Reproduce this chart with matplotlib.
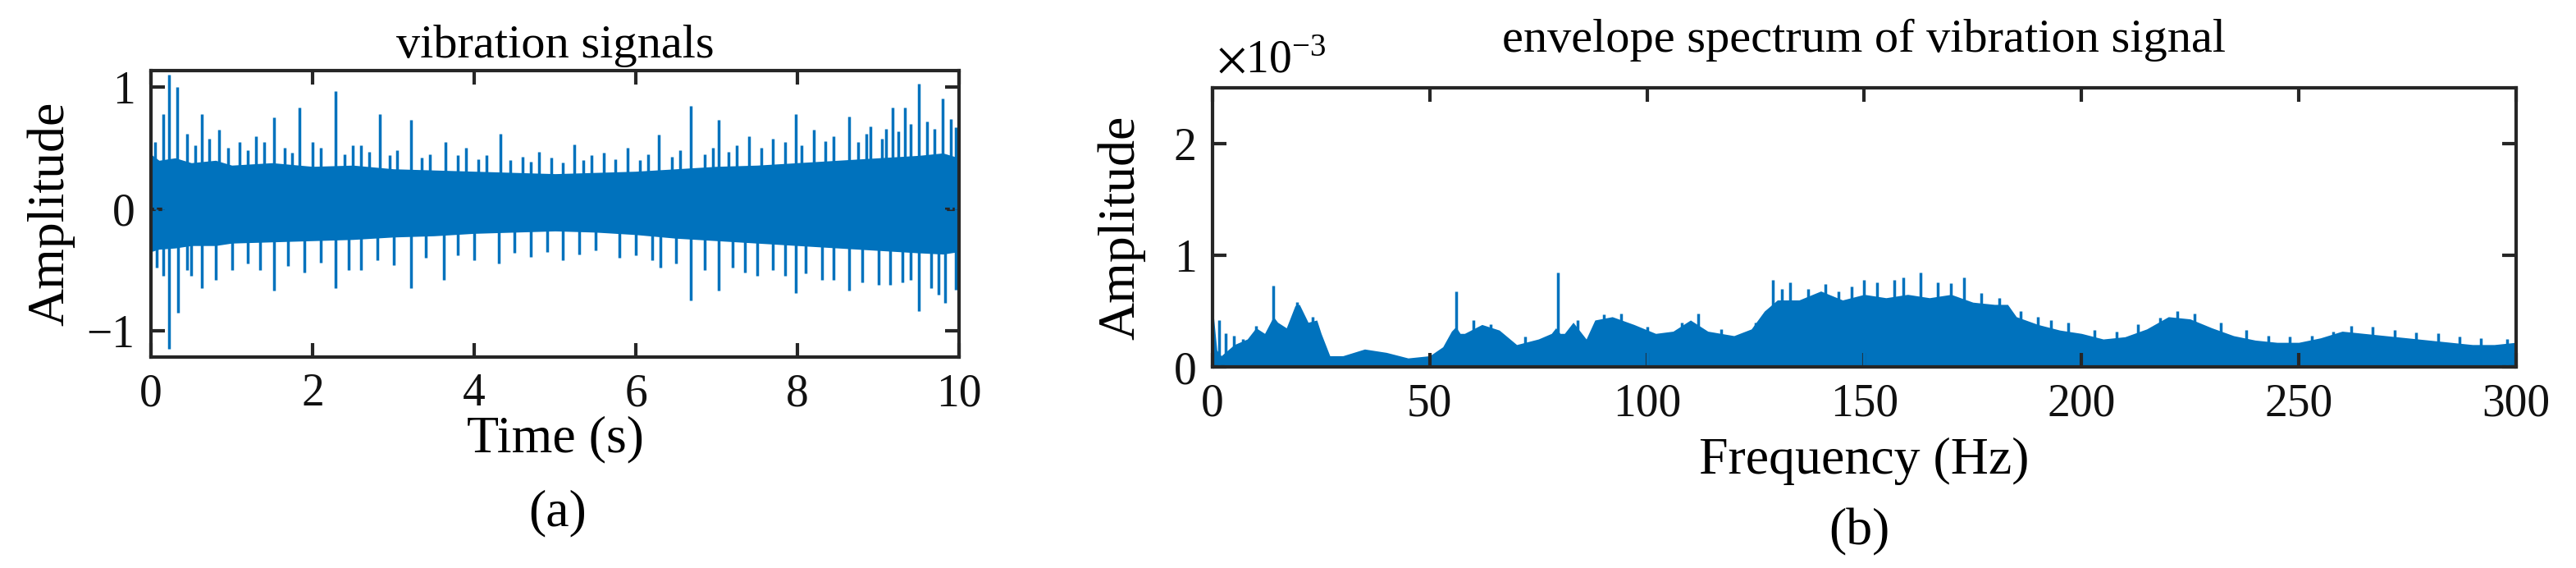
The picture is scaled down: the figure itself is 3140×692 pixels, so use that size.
import matplotlib
matplotlib.use("Agg")
import matplotlib.pyplot as plt
import numpy as np

plt.rcParams['font.family'] = ['Liberation Serif', 'DejaVu Serif']
plt.rcParams['mathtext.fontset'] = 'stix'

# ---- (a) vibration signal: band envelope + spikes ----
band_t = [0, 0.1, 0.3, 0.5, 0.8, 1.0, 1.5, 2.0, 2.5, 3.0, 3.5, 4.0, 4.5, 5.0, 5.5, 6.0,
          6.5, 7.0, 7.5, 8.0, 8.5, 9.0, 9.5, 9.8, 10.0]
band_hi = [0.45, 0.40, 0.42, 0.38, 0.40, 0.36, 0.38, 0.35, 0.36, 0.33, 0.32, 0.31, 0.30, 0.29, 0.30, 0.31,
           0.33, 0.35, 0.36, 0.38, 0.40, 0.42, 0.44, 0.46, 0.42]
band_lo = [-0.35, -0.33, -0.32, -0.30, -0.30, -0.28, -0.27, -0.26, -0.25, -0.23, -0.22, -0.20, -0.19, -0.18, -0.19, -0.21,
           -0.24, -0.26, -0.28, -0.30, -0.32, -0.34, -0.36, -0.37, -0.35]
up_t = [0.15, 0.22, 0.32, 0.63, 0.84, 1.52, 1.84, 2.28, 2.83, 3.22, 3.64, 4.32, 5.24, 6.28, 6.68,
        7.03, 7.98, 8.64, 9.18, 9.33, 9.5, 9.8, 9.96,
        0.45, 1.1, 1.3, 2.0, 2.6, 3.9, 4.8, 5.6, 5.9, 7.4, 7.7, 8.2, 8.9, 9.6, 9.1,
        0.05, 0.55, 0.72, 0.95, 1.2, 1.4, 1.65, 1.75, 2.1, 2.4, 2.5, 2.7, 2.95, 3.05, 3.35, 3.45, 3.8,
        4.05, 4.15, 4.45, 4.6, 4.7, 4.95, 5.1, 5.35, 5.45, 5.75, 6.05, 6.15, 6.45, 6.55, 6.85, 6.95,
        7.15, 7.25, 7.55, 7.85, 8.05, 8.35, 8.45, 8.75, 8.85, 9.05, 9.25, 9.4, 9.7, 9.9]
up_v = [0.78, 1.10, 1.00, 0.78, 0.65, 0.75, 0.83, 0.97, 0.78, 0.73, 0.55, 0.62, 0.53, 0.61, 0.85,
        0.73, 0.78, 0.76, 0.83, 0.83, 1.03, 0.91, 0.67,
        0.62, 0.55, 0.60, 0.55, 0.52, 0.50, 0.47, 0.46, 0.50, 0.60, 0.58, 0.65, 0.68, 0.72, 0.66,
        0.55, 0.52, 0.58, 0.50, 0.48, 0.55, 0.50, 0.46, 0.50, 0.45, 0.52, 0.47, 0.44, 0.48, 0.42, 0.45, 0.44,
        0.41, 0.44, 0.40, 0.43, 0.39, 0.42, 0.38, 0.40, 0.44, 0.41, 0.40, 0.45, 0.43, 0.48, 0.45, 0.50,
        0.47, 0.52, 0.50, 0.55, 0.52, 0.56, 0.60, 0.55, 0.62, 0.58, 0.64, 0.70, 0.66, 0.74]
lo_t = [0.07, 0.22, 0.34, 0.63, 1.52, 2.28, 3.22, 3.62, 6.68, 7.03, 7.98, 8.64, 9.5, 9.83, 9.96,
        0.5, 1.0, 1.9, 2.6, 4.3, 5.1, 5.8, 6.3, 7.5, 8.3, 9.0, 9.3,
        0.15, 0.45, 0.8, 1.2, 1.35, 1.7, 2.1, 2.45, 2.8, 3.0, 3.4, 3.8, 4.0, 4.5, 4.7, 4.9, 5.3, 5.5,
        6.0, 6.2, 6.5, 6.85, 7.2, 7.35, 7.7, 7.85, 8.1, 8.45, 8.8, 9.15, 9.4, 9.65, 9.75]
lo_v = [-0.48, -1.15, -0.85, -0.65, -0.67, -0.65, -0.65, -0.58, -0.75, -0.67, -0.69, -0.67, -0.84, -0.77, -0.66,
        -0.55, -0.50, -0.52, -0.50, -0.45, -0.42, -0.40, -0.48, -0.55, -0.58, -0.62, -0.60,
        -0.55, -0.50, -0.58, -0.45, -0.50, -0.47, -0.44, -0.50, -0.42, -0.46, -0.40, -0.38, -0.42, -0.36, -0.39,
        -0.35, -0.37, -0.34, -0.38, -0.42, -0.45, -0.50, -0.48, -0.52, -0.50, -0.55, -0.53, -0.58, -0.60, -0.62,
        -0.58, -0.65, -0.70]

# ---- (b) envelope spectrum profile (x1e-3) ----
sp_f = [0, 1, 2, 5, 8, 10, 12, 14, 15, 17, 19, 20, 22, 24, 25, 27, 30, 35, 40, 45, 50, 53, 55, 56, 57, 58,
        62, 66, 70, 75, 78, 79, 80, 81, 83, 86, 88, 92, 97, 102, 106, 110, 114, 120, 124, 127, 130,
        135, 140, 145, 150, 155, 160, 165, 170, 175, 180, 183, 185, 190, 195, 200, 205, 210, 215, 220,
        225, 230, 235, 240, 245, 250, 255, 260, 265, 270, 275, 280, 285, 290, 295, 300]
sp_v = [0.55, 0.15, 0.10, 0.20, 0.25, 0.35, 0.30, 0.45, 0.40, 0.35, 0.55, 0.56, 0.40, 0.42, 0.30, 0.10, 0.10,
        0.16, 0.13, 0.08, 0.10, 0.18, 0.32, 0.36, 0.30, 0.30,
        0.38, 0.33, 0.20, 0.25, 0.30, 0.35, 0.30, 0.30, 0.40, 0.25, 0.42, 0.45, 0.38, 0.30, 0.32, 0.42, 0.32,
        0.28, 0.34, 0.50, 0.60,
        0.60, 0.68, 0.60, 0.65, 0.62, 0.65, 0.62, 0.65, 0.58, 0.56, 0.56, 0.45, 0.38, 0.33, 0.30, 0.25, 0.27,
        0.34, 0.45, 0.43, 0.35, 0.28, 0.24, 0.22, 0.22, 0.26, 0.32, 0.30, 0.28, 0.26, 0.24, 0.22, 0.20, 0.20, 0.22]
pk_f = [14, 19.5, 56, 79.4, 129, 133, 137, 150, 153, 157, 163, 167, 173, 111.7, 1.5, 222, 262, 190, 5, 10,
        3, 7, 23, 60, 64, 72, 84, 90, 94, 100, 108, 117, 125, 131, 141, 144, 147, 159, 170, 177, 181, 186,
        193, 197, 203, 208, 213, 218, 226, 232, 238, 243, 248, 253, 258, 267, 272, 277, 282, 287, 292, 298]
pk_v = [0.73, 0.58, 0.68, 0.85, 0.78, 0.76, 0.70, 0.78, 0.76, 0.78, 0.85, 0.76, 0.80, 0.48, 0.42, 0.50, 0.37, 0.45, 0.28, 0.37,
        0.30, 0.25, 0.45, 0.42, 0.38, 0.27, 0.42, 0.47, 0.48, 0.36, 0.40, 0.34, 0.40, 0.70, 0.74, 0.68, 0.72, 0.80,
        0.75, 0.66, 0.62, 0.50, 0.42, 0.40, 0.33, 0.32, 0.38, 0.44, 0.48, 0.40, 0.33, 0.28, 0.27, 0.28, 0.32, 0.36,
        0.33, 0.31, 0.30, 0.27, 0.26, 0.25]

blue = '#0072BD'
axc = '#262626'

fig = plt.figure(figsize=(31.4, 6.92), dpi=100)
ax1 = fig.add_axes([0.0586, 0.3714, 0.3137, 0.504])
ax2 = fig.add_axes([0.4707, 0.354, 0.506, 0.491])

ax1.fill_between(band_t, band_lo, band_hi, color=blue, lw=0)
ax1.vlines(up_t, 0, up_v, color=blue, lw=2.5)
ax1.vlines(lo_t, lo_v, 0, color=blue, lw=2.5)
ax1.set_xlim(0, 10)
ax1.set_ylim(-1.215, 1.135)
ax1.set_xticks([0, 2, 4, 6, 8, 10])
ax1.set_yticks([-1, 0, 1])
ax1.set_yticklabels(['\u22121', '0', '1'])
ax1.set_title('vibration signals', fontsize=42, pad=12)
ax1.set_ylabel('Amplitude', fontsize=46, labelpad=10)
ax1.set_xlabel('Time (s)', fontsize=46, labelpad=0)
fig.text(0.2166, 1 - 625 / 692, '(a)', fontsize=46, ha='center', va='center')

ax2.fill_between(sp_f, 0, sp_v, color=blue, lw=0)
ax2.vlines(pk_f, 0, pk_v, color=blue, lw=2.5)
ax2.set_xlim(0, 300)
ax2.set_ylim(0, 2.5)
ax2.set_xticks([0, 50, 100, 150, 200, 250, 300])
ax2.set_yticks([0, 1, 2])
ax2.set_title('envelope spectrum of vibration signal', fontsize=42, pad=32)
ax2.set_ylabel('Amplitude', fontsize=46, labelpad=25)
ax2.set_xlabel('Frequency (Hz)', fontsize=46, labelpad=10)
fig.text(1483 / 3140, 1 - 75 / 692, r'$\times$10$^{\mathregular{-3}}$', fontsize=40, ha='left', va='center')
fig.text(2266 / 3140, 1 - 648 / 692, '(b)', fontsize=46, ha='center', va='center')

for ax in (ax1, ax2):
    for s in ax.spines.values():
        s.set_color(axc)
        s.set_linewidth(3)
    ax.tick_params(direction='in', length=12, width=3, colors=axc, labelcolor='#111111',
                   labelsize=40, top=True, right=True, pad=14)

fig.savefig('out.png', dpi=100)
